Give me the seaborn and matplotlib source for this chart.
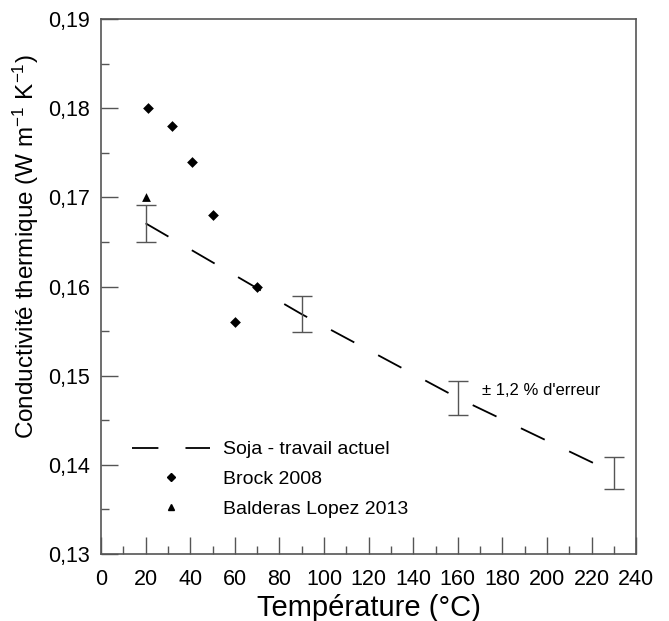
import seaborn as sns
import matplotlib.pyplot as plt
import pandas as pd
from matplotlib.ticker import MultipleLocator, FuncFormatter
from matplotlib.lines import Line2D

# data
soja_temp = [20, 90, 160, 230]
soja_k = [0.1671, 0.1569, 0.1475, 0.1391]
soja_err = [0.0021, 0.0020, 0.0019, 0.0018]

brock_temp = [21, 32, 41, 50, 60, 70]
brock_k = [0.180, 0.178, 0.174, 0.168, 0.156, 0.160]

balderas_temp = [20]
balderas_k = [0.170]

soja = pd.DataFrame({"T": soja_temp, "k": soja_k})
brock = pd.DataFrame({"T": brock_temp, "k": brock_k})
balderas = pd.DataFrame({"T": balderas_temp, "k": balderas_k})

sns.set_theme(style="white")
plt.rcParams["font.family"] = ["Liberation Sans", "DejaVu Sans"]
plt.rcParams["lines.scale_dashes"] = False
plt.rcParams["mathtext.default"] = "regular"
plt.rcParams["text.color"] = "black"
plt.rcParams["axes.labelcolor"] = "black"

fig = plt.figure(figsize=(6.69, 6.21), dpi=100)
ax = fig.add_axes([0.151, 0.108, 0.80, 0.861])

edge = "#555555"
dash = (0, (19, 19.5))

sns.lineplot(data=soja, x="T", y="k", ax=ax, color="black", lw=1.3,
             dashes=False, linestyle=dash)
ax.errorbar(soja_temp, soja_k, yerr=soja_err, fmt="none", ecolor=edge,
            elinewidth=1.0, capsize=7, capthick=1.0)
sns.scatterplot(data=brock, x="T", y="k", ax=ax, marker="D", s=30,
                color="black", edgecolor="black", linewidth=0)
sns.scatterplot(data=balderas, x="T", y="k", ax=ax, marker="^", s=40,
                color="black", edgecolor="black", linewidth=0)

ax.text(171, 0.1483, "± 1,2 % d'erreur", fontsize=12, va="center", ha="left")

ax.set_xlim(0, 240)
ax.set_ylim(0.13, 0.19)
ax.xaxis.set_major_locator(MultipleLocator(20))
ax.xaxis.set_minor_locator(MultipleLocator(10))
ax.yaxis.set_major_locator(MultipleLocator(0.01))
ax.yaxis.set_minor_locator(MultipleLocator(0.005))
ax.yaxis.set_major_formatter(FuncFormatter(lambda v, p: f"{v:.2f}".replace(".", ",")))

ax.tick_params(which="both", direction="in", colors=edge, labelcolor="black",
               labelsize=15.5, width=1.0, bottom=True, left=True, top=False, right=False)
ax.tick_params(which="major", length=12)
ax.tick_params(which="minor", length=6)
ax.tick_params(axis="x", which="major", pad=11)
ax.tick_params(axis="y", which="major", pad=8)
for s in ax.spines.values():
    s.set_color(edge)
    s.set_linewidth(1.2)

ax.set_xlabel("Température (°C)", fontsize=21, labelpad=3)
ax.set_ylabel("Conductivité thermique (W m$^{-1}$ K$^{-1}$)", fontsize=17.5)
ax.yaxis.set_label_coords(-0.112, 0.574)

handles = [
    Line2D([], [], color="black", lw=1.3, linestyle=dash),
    Line2D([], [], color="black", marker="D", ms=4.5, lw=0),
    Line2D([], [], color="black", marker="^", ms=5, lw=0),
]
labels = ["Soja - travail actuel", "Brock 2008", "Balderas Lopez 2013"]
ax.legend(handles, labels, loc="lower left", bbox_to_anchor=(0.026, 0.035),
          frameon=False, fontsize=14, handlelength=4.0, handletextpad=0.67,
          labelspacing=0.62)

fig.savefig("out.png", dpi=100)
plt.close(fig)
